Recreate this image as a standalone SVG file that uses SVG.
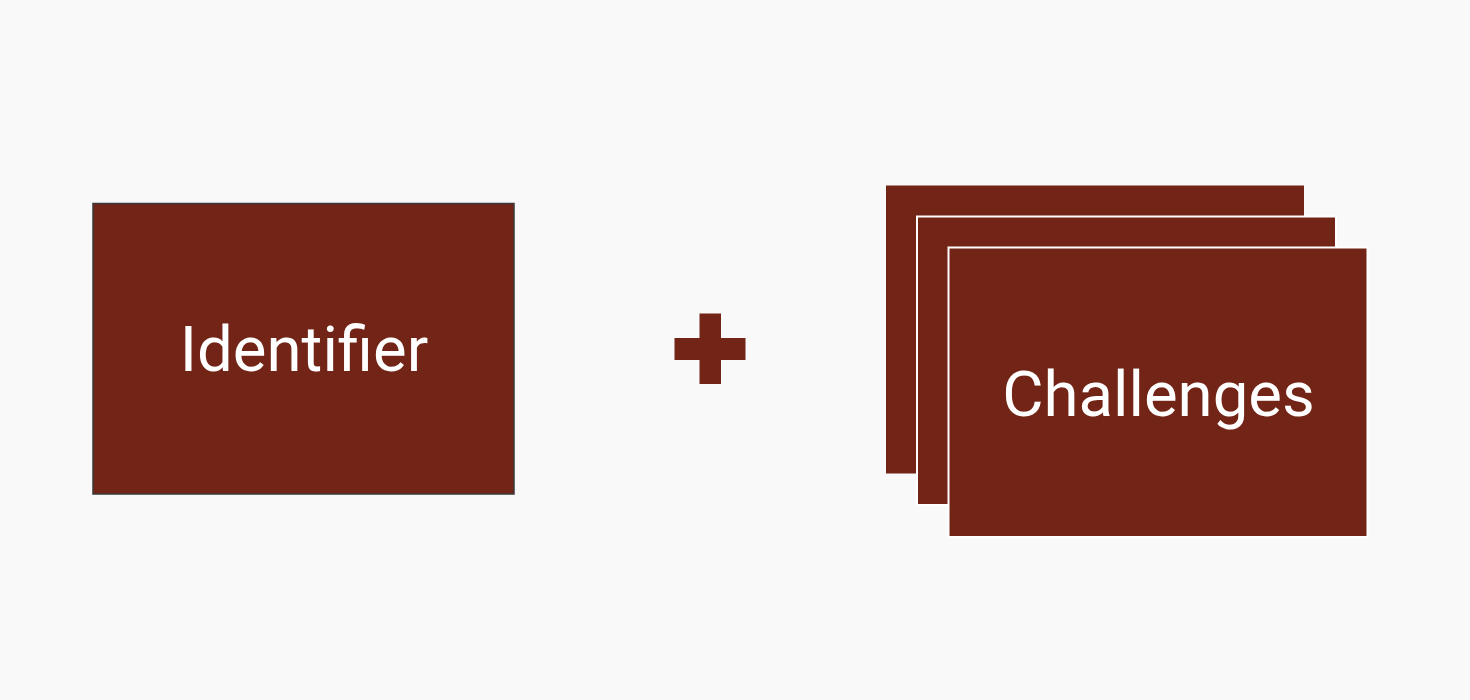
<svg xmlns="http://www.w3.org/2000/svg" width="1470" height="700" viewBox="0 0 1470 700">
  <style>
    .box { fill: #722516; }
    .card { fill: #722516; stroke: #ffffff; stroke-width: 2; }
    .label { fill: #ffffff; font-family: Roboto, "Liberation Sans", sans-serif; font-size: 63.5px; text-anchor: middle; }
  </style>
  <rect x="0" y="0" width="1470" height="700" fill="#f9f9f9"/>
  <g id="identifier">
    <rect class="box" x="93" y="203.5" width="421" height="290.5" stroke="#3a3a3a" stroke-width="1.5"/>
    <text class="label" x="304" y="371">Identifier</text>
  </g>
  <g id="plus">
    <rect class="box" x="699.5" y="313.5" width="21.5" height="70.5"/>
    <rect class="box" x="674.5" y="338" width="71" height="22"/>
  </g>
  <g id="challenges">
    <rect class="box" x="886" y="185.5" width="418" height="288"/>
    <rect class="card" x="917" y="216.5" width="419" height="288.5"/>
    <rect class="card" x="948.5" y="247.5" width="419" height="289.5"/>
    <text class="label" x="1158.5" y="416">Challenges</text>
  </g>
  <g id="connectors"></g>
</svg>
